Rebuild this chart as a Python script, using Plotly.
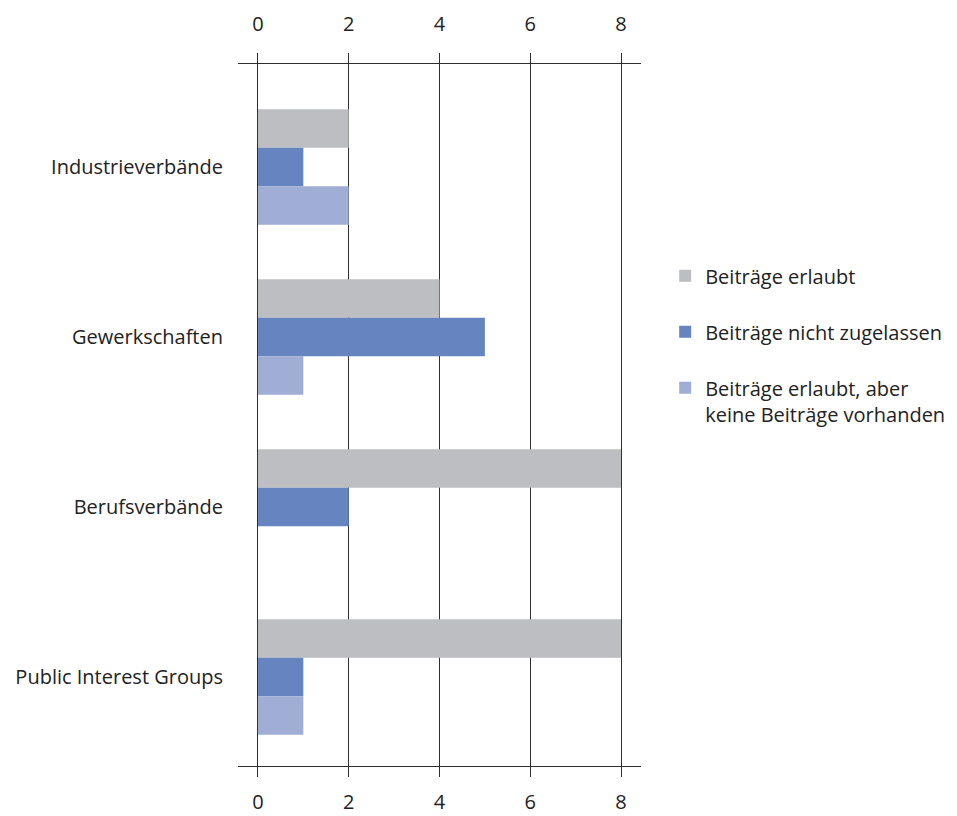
import plotly.graph_objects as go

categories = ["Industrieverbände", "Gewerkschaften", "Berufsverbände", "Public Interest Groups"]
erlaubt = [2, 4, 8, 8]
nicht_zugelassen = [1, 5, 2, 1]
keine_vorhanden = [2, 1, 0, 1]
ticks = [0, 2, 4, 6, 8]

names = ["Beiträge erlaubt", "Beiträge nicht zugelassen", "Beiträge erlaubt, aber<br>keine Beiträge vorhanden"]
colors = ["#bdbec2", "#6684bf", "#a0aed6"]

font = "Open Sans"
size = 20
text_color = "#222222"
line_color = "#2e2e2e"

fig = go.Figure()
for name, values, color in zip(names, [erlaubt, nicht_zugelassen, keine_vorhanden], colors):
    fig.add_trace(
        go.Bar(
            name=name,
            y=categories,
            x=values,
            orientation="h",
            marker_color=color,
            marker_line_width=0,
            legendgroup=name,
        )
    )

# empty trace so the top axis gets drawn
fig.add_trace(go.Scatter(x=[None], y=[None], xaxis="x2", showlegend=False, hoverinfo="skip"))

axis_style = dict(
    range=[-0.44, 8.44],
    tickvals=ticks,
    ticks="outside",
    ticklen=10,
    tickcolor=line_color,
    tickwidth=1,
    showline=True,
    linecolor=line_color,
    linewidth=1,
    zeroline=False,
    tickfont=dict(family=font, size=size, color=text_color),
)

# the page body adds 8px around the figure, so the figure is 8px smaller
fig.update_layout(
    width=949,
    height=808,
    margin=dict(l=230, r=316, t=56, b=50, autoexpand=False),
    plot_bgcolor="white",
    paper_bgcolor="white",
    barmode="group",
    bargap=0.32,
    bargroupgap=0,
    font=dict(family=font, size=size, color=text_color),
    xaxis=dict(side="bottom", showgrid=True, gridcolor=line_color, gridwidth=1, ticklabelstandoff=8, **axis_style),
    xaxis2=dict(side="top", overlaying="x", matches="x", anchor="y", showgrid=False, ticklabelstandoff=14, **axis_style),
    yaxis=dict(
        categoryorder="array",
        categoryarray=categories,
        range=[3.524, -0.606],
        showgrid=False,
        zeroline=False,
        showline=False,
        ticks="",
        ticklabelstandoff=14,
        tickfont=dict(family=font, size=size, color=text_color),
    ),
    legend=dict(
        x=1.06,
        xanchor="left",
        y=0.726,
        yanchor="top",
        valign="top",
        tracegroupgap=27,
        font=dict(family=font, size=size, color=text_color),
    ),
    showlegend=True,
)

fig.write_html("out.html")
